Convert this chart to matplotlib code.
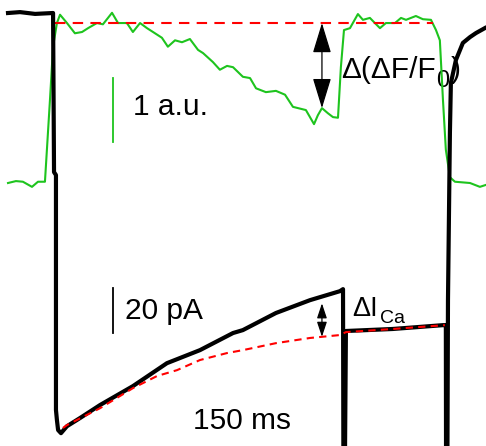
import numpy as np
import matplotlib
matplotlib.use("Agg")
import matplotlib.pyplot as plt
from matplotlib.patches import FancyArrowPatch

plt.rcParams['font.family'] = ['Liberation Sans', 'DejaVu Sans']

# ---- Calcium current trace (time in ms, current in pA) ----
i_time = [-24.3, -18.1, -10.3, -1.0, -0.5, 0.5, 0.5, 1.0, 1.6, 3.1, 6.2, 12.9, 23.3,
          40.3, 57.9, 75.0, 92.1, 97.2, 114.3, 131.9, 147.4, 149.0, 149.2, 150.0,
          150.5, 174.8, 200.7, 202.2, 202.3, 203.0, 203.3, 204.3, 204.8, 207.4,
          211.0, 214.7, 217.8, 222.4]
i_curr = [0.0, 0.4, -0.4, 0.0, -70.7, -72.0, -176.4, -180.9, -185.3, -186.7, -183.6,
          -180.0, -174.2, -165.8, -155.6, -149.8, -142.2, -140.9, -133.3, -127.6,
          -123.6, -122.7, -198.7, -198.7, -141.3, -140.4, -138.7, -138.7, -198.7,
          -198.7, -127.6, -53.3, -31.1, -20.9, -13.3, -10.7, -8.9, -6.7]

# ---- Exponential fit of current (dashed red) ----
fit_time = [4.1, 6.2, 23.3, 40.3, 52.8, 63.1, 75.0, 89.0, 97.2, 114.3, 131.9, 147.4,
            150.5, 174.8, 201.7]
fit_curr = [-184.4, -183.1, -175.6, -166.7, -161.3, -158.7, -154.2, -151.1, -149.8,
            -146.7, -144.4, -143.1, -141.8, -140.4, -138.7]

# ---- Fluorescence trace (dF/F0, a.u.) ----
f_time = [-24.3, -20.2, -16.6, -11.9, -8.8, -5.2, -2.6, -1.0, 1.0, 2.6, 6.2, 10.3,
          14.0, 17.1, 21.7, 24.8, 29.5, 32.6, 37.2, 40.3, 44.0, 47.6, 50.7, 55.3,
          58.4, 62.1, 65.7, 69.8, 74.0, 76.6, 81.7, 85.3, 89.0, 92.1, 97.2, 100.9,
          104.0, 109.1, 114.3, 119.0, 123.1, 129.8, 131.9, 134.0, 136.0, 138.1,
          141.2, 143.8, 146.4, 147.9, 149.5, 152.6, 156.7, 159.3, 162.9, 165.5,
          168.1, 171.2, 175.9, 179.0, 181.6, 186.7, 190.3, 194.5, 197.1, 199.1,
          200.7, 202.2, 204.3, 206.9, 214.7, 219.8, 222.9]
f_val = [0.00, 0.03, 0.02, -0.06, 0.02, 0.02, 1.30, 2.13, 2.50, 2.63, 2.50, 2.34,
         2.36, 2.42, 2.50, 2.48, 2.66, 2.50, 2.50, 2.36, 2.50, 2.42, 2.36, 2.27,
         2.13, 2.23, 2.20, 2.25, 2.08, 2.03, 1.89, 1.77, 1.83, 1.81, 1.66, 1.64,
         1.48, 1.42, 1.44, 1.38, 1.19, 1.14, 1.03, 0.92, 1.06, 1.17,
         1.09, 1.03, 1.02, 1.81, 2.39, 2.42, 2.64, 2.55, 2.58, 2.50,
         2.42, 2.50, 2.50, 2.58, 2.55, 2.61, 2.56, 2.55, 2.39, 2.23,
         1.30, 0.52, 0.09, 0.02, 0.00, -0.06, -0.03]

# reference fluorescence level (dashed red) and its time span
f_ref_level = 2.5
f_ref_span = [0.0, 195.5]

# measurement time for the arrows
t_meas = 138.1

# scale bars
sb_time = 30.0
sb_f = [0.64, 1.64]        # 1 a.u.
sb_i = [-122.0, -142.0]    # 20 pA

# axis ranges
t_lim = (-28.45, 222.97)
i_lim = (-192.4, 5.78)
f_lim = (-4.11, 2.86)

green = '#1ec41e'

fig = plt.figure(figsize=(4.86, 4.46), dpi=100)
ax_f = fig.add_axes([0, 0, 1, 1])
ax_i = fig.add_axes([0, 0, 1, 1])
ax_i.patch.set_alpha(0)
for ax in (ax_f, ax_i):
    ax.set_axis_off()
    ax.set_xlim(*t_lim)
ax_f.set_ylim(*f_lim)
ax_i.set_ylim(*i_lim)

# fluorescence
ax_f.plot(f_time, f_val, color=green, lw=1.5, solid_joinstyle='round', zorder=2)
ax_f.plot(f_ref_span, [f_ref_level, f_ref_level], color='red', lw=1.5,
          dashes=(5, 3.5), zorder=3)
ax_f.plot([sb_time, sb_time], sb_f, color=green, lw=1.3)
ax_f.text(40.3, 1.19, '1 a.u.', fontsize=21.5, va='center', ha='left')
f_at = float(np.interp(t_meas, f_time, f_val))
arr1 = FancyArrowPatch((t_meas, f_ref_level), (t_meas, f_at),
                       arrowstyle='<|-|>,head_length=19,head_width=5.8',
                       mutation_scale=1, shrinkA=0, shrinkB=0, color='black',
                       lw=0.9, zorder=4)
ax_f.add_patch(arr1)

# label  Δ(ΔF/F0)
lab_base = 1.64
t1 = ax_f.text(148.0, lab_base, 'Δ(ΔF/F', fontsize=21.5, va='baseline', ha='left',
               zorder=1)
t2 = ax_f.annotate('0', xy=(1, lab_base), xycoords=(t1, 'data'),
                   xytext=(0.5, -6.5), textcoords='offset points',
                   fontsize=17, va='baseline', ha='left', zorder=1)
ax_f.annotate(')', xy=(1, lab_base), xycoords=(t2, 'data'),
              xytext=(0.5, 0), textcoords='offset points',
              fontsize=21.5, va='baseline', ha='left', zorder=1)

# current
ax_i.plot(i_time, i_curr, color='black', lw=3.0, solid_joinstyle='round', zorder=3)
ax_i.plot(fit_time, fit_curr, color='red', lw=1.5, dashes=(3.5, 2.5), zorder=4)
ax_i.plot([sb_time, sb_time], sb_i, color='black', lw=1.3)
ax_i.text(36.2, -132.4, '20 pA', fontsize=21.5, va='center', ha='left')
ax_i.text(71.4, -181.3, '150 ms', fontsize=21.5, va='center', ha='left')
i_at = float(np.interp(t_meas, i_time, i_curr))
fit_at = float(np.interp(t_meas, fit_time, fit_curr))
arr2 = FancyArrowPatch((t_meas, i_at - 3), (t_meas, fit_at),
                       arrowstyle='<|-|>,head_length=9,head_width=3',
                       mutation_scale=1, shrinkA=0, shrinkB=0, color='black',
                       lw=0.9, zorder=5)
ax_i.add_patch(arr2)

# label  ΔI_Ca
ica_base = -134.7
t3 = ax_i.text(153.6, ica_base, 'ΔI', fontsize=19.5, va='baseline', ha='left')
ax_i.annotate('Ca', xy=(1, ica_base), xycoords=(t3, 'data'),
              xytext=(1.5, -5), textcoords='offset points',
              fontsize=14, va='baseline', ha='left')

fig.savefig('out.png', dpi=100)
